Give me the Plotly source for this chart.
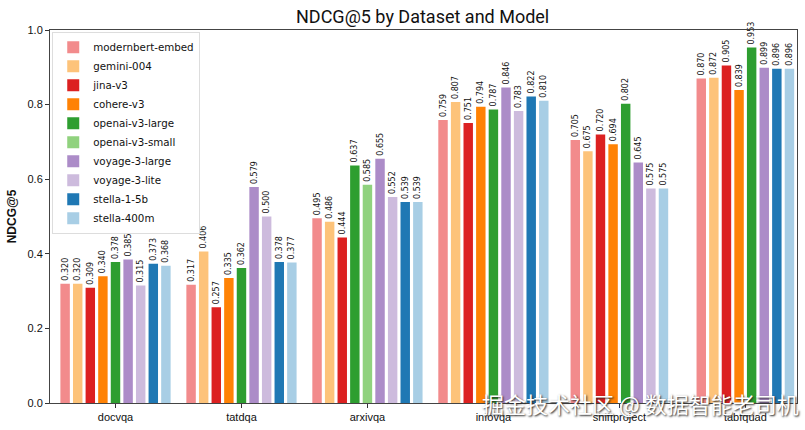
import plotly.graph_objects as go

datasets = ["docvqa", "tatdqa", "arxivqa", "infovqa", "shiftproject", "tabfquad"]
models = ["modernbert-embed", "gemini-004", "jina-v3", "cohere-v3", "openai-v3-large",
          "openai-v3-small", "voyage-3-large", "voyage-3-lite", "stella-1-5b", "stella-400m"]

modernbert_embed = [0.320, 0.317, 0.495, 0.759, 0.705, 0.870]
gemini_004 = [0.320, 0.406, 0.486, 0.807, 0.675, 0.872]
jina_v3 = [0.309, 0.257, 0.444, 0.751, 0.720, 0.905]
cohere_v3 = [0.340, 0.335, None, 0.794, 0.694, 0.839]
openai_v3_large = [0.378, 0.362, 0.637, 0.787, 0.802, 0.953]
openai_v3_small = [None, None, 0.585, None, None, None]
voyage_3_large = [0.385, 0.579, 0.655, 0.846, 0.645, 0.899]
voyage_3_lite = [0.315, 0.500, 0.552, 0.783, 0.575, None]
stella_1_5b = [0.373, 0.378, 0.539, 0.822, None, 0.896]
stella_400m = [0.368, 0.377, 0.539, 0.810, 0.575, 0.896]

series = [modernbert_embed, gemini_004, jina_v3, cohere_v3, openai_v3_large,
          openai_v3_small, voyage_3_large, voyage_3_lite, stella_1_5b, stella_400m]

colors = ["#F28B8C", "#FDC37A", "#DC2121", "#FF8205", "#2E9E30",
          "#90D27E", "#AC8CC8", "#CDBBDD", "#1F78B4", "#A8CEE5"]

step = 0.1
bar_w = 0.075

# compute positions per group, centering only the models present
positions = {m: [None] * len(datasets) for m in range(len(models))}
for g in range(len(datasets)):
    present = [m for m in range(len(models)) if series[m][g] is not None]
    n = len(present)
    for k, m in enumerate(present):
        positions[m][g] = g + (k - (n - 1) / 2) * step

fig = go.Figure()
for m, name in enumerate(models):
    xs = [positions[m][g] for g in range(len(datasets)) if series[m][g] is not None]
    ys = [series[m][g] for g in range(len(datasets)) if series[m][g] is not None]
    fig.add_trace(go.Bar(
        x=xs, y=ys, name=name, width=bar_w,
        marker=dict(color=colors[m], line=dict(width=0)),
        text=[f"{v:.3f}" for v in ys],
        textposition="outside", textangle=-90, cliponaxis=False,
        constraintext="none",
        textfont=dict(size=8, color="#111", family="DejaVu Sans"),
    ))

fig.update_layout(
    width=805, height=430,
    margin=dict(l=50, r=8, t=30, b=27),
    paper_bgcolor="white", plot_bgcolor="white",
    barmode="overlay",
    title=dict(text="NDCG@5 by Dataset and Model", x=0.525, xanchor="center",
               y=0.962, yanchor="middle",
               font=dict(size=18, family="Roboto", color="#111")),
    font=dict(family="Liberation Sans", color="#111"),
    showlegend=True,
    legend=dict(x=0.003, y=0.995, xanchor="left", yanchor="top",
                bgcolor="white", bordercolor="#dddddd", borderwidth=1,
                font=dict(size=10.3, family="DejaVu Sans", color="#111"),
                tracegroupgap=0, itemwidth=30),
)

fig.update_xaxes(
    range=[-0.52, 5.41], tickmode="array",
    tickvals=list(range(len(datasets))), ticktext=datasets,
    ticks="outside", ticklen=4, tickcolor="#333",
    showline=True, linecolor="#444", linewidth=1, mirror=True,
    showgrid=False, zeroline=False,
    tickfont=dict(size=11, family="Liberation Sans", color="#111"),
)
fig.update_yaxes(
    range=[0, 1.0], tickmode="array", tickvals=[0, 0.2, 0.4, 0.6, 0.8, 1.0],
    ticktext=["0.0", "0.2", "0.4", "0.6", "0.8", "1.0"],
    ticks="outside", ticklen=4, tickcolor="#333",
    showline=True, linecolor="#444", linewidth=1, mirror=True,
    showgrid=False, zeroline=False,
    title=dict(text="<b>NDCG@5</b>", font=dict(size=12, family="Liberation Sans", color="#111"), standoff=8),
    tickfont=dict(size=11, family="Liberation Sans", color="#111"),
)

fig.add_annotation(
    text="掘金技术社区 @ 数据智能老司机", xref="paper", yref="paper",
    x=0.79, y=0.0, xanchor="center", yanchor="middle", showarrow=False,
    font=dict(size=22, family="Noto Sans CJK SC", color="white",
              shadow="1px 1px 2px #222"),
)

fig.write_html("out.html")
